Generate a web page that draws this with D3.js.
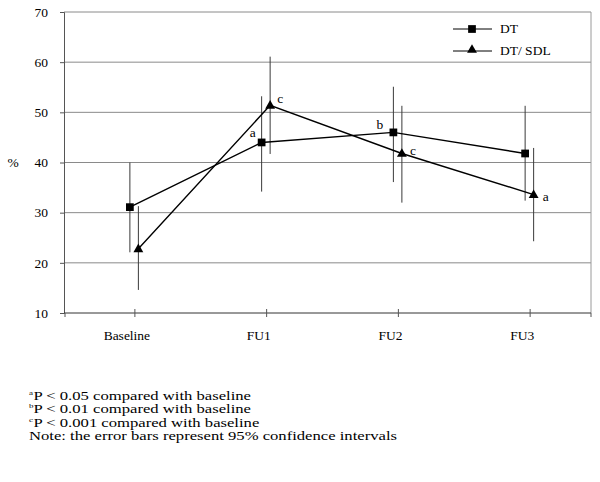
<!DOCTYPE html>
<html><head><meta charset="utf-8">
<script src="https://cdn.jsdelivr.net/npm/d3@7"></script>
<style>body{margin:0;background:#fff}svg{display:block}</style>
</head><body><svg id="c" width="600" height="482"></svg>
<script>
const categories = ["Baseline","FU1","FU2","FU3"];
const yTicks = [10,20,30,40,50,60,70];
const dtMean = [31.1, 44.0, 46.0, 41.8];
const dtLow  = [22.1, 34.2, 36.1, 32.4];
const dtHigh = [40.0, 53.2, 55.1, 51.3];
const dtSig  = ["", "a", "b", ""];
const sdlMean = [22.8, 51.4, 41.8, 33.6];
const sdlLow  = [14.6, 41.7, 32.0, 24.3];
const sdlHigh = [31.3, 61.1, 51.3, 42.9];
const sdlSig  = ["", "c", "c", "a"];
const seriesNames = ["DT","DT/ SDL"];
const footSup = ["a","b","c",""];
const footText = [
  "P < 0.05 compared with baseline",
  "P < 0.01 compared with baseline",
  "P < 0.001 compared with baseline",
  "Note: the error bars represent 95% confidence intervals"
];

const FONT = "Liberation Serif";
const svg = d3.select("#c");
const L=64, R=591, T=12, B=313;
const x = d3.scaleBand().domain(categories).range([L,R]);
const y = d3.scaleLinear().domain([10,70]).range([B,T]);
const cx = c => x(c) + x.bandwidth()/2;
const txt = sel => sel.style("font-family",FONT).attr("fill","#000");

// gridlines
svg.append("g").selectAll("line").data(yTicks.filter(t=>t>10)).join("line")
  .attr("x1",L).attr("x2",R).attr("y1",d=>y(d)).attr("y2",d=>y(d))
  .attr("stroke","#8a8a8a").attr("stroke-width",1);
svg.append("line").attr("x1",R).attr("x2",R).attr("y1",T).attr("y2",B).attr("stroke","#9a9a9a");

// y axis
const ya = svg.append("g").attr("transform",`translate(${L},0)`)
  .call(d3.axisLeft(y).tickValues(yTicks).tickSize(4).tickPadding(12));
ya.select(".domain").attr("stroke","#555");
ya.selectAll(".tick line").attr("stroke","#555");
ya.selectAll("text").style("font-size","13.5px").call(txt);

// x axis
const xa = svg.append("g").attr("transform",`translate(0,${B})`)
  .call(d3.axisBottom(x).tickSize(0).tickPadding(17));
xa.select(".domain").attr("stroke","#333").attr("d",`M${L},0H${R}`);
xa.selectAll("text").style("font-size","13.5px").call(txt).attr("dx","-3");
const xTickPos = categories.map(d=>cx(d)+5);
svg.append("g").selectAll("line").data(xTickPos).join("line")
  .attr("x1",d=>d).attr("x2",d=>d).attr("y1",B-4).attr("y2",B+4).attr("stroke","#555");
svg.append("g").selectAll("line").data([L+1,R]).join("line")
  .attr("x1",d=>d).attr("x2",d=>d).attr("y1",B).attr("y2",B+4).attr("stroke","#555");

// y title
svg.append("text").attr("x",13).attr("y",y(40)+4).attr("text-anchor","middle")
  .style("font-size","13.5px").call(txt).text("%");

const series = [
  {mean:dtMean, low:dtLow, high:dtHigh, sig:dtSig, off:0, shape:"square"},
  {mean:sdlMean, low:sdlLow, high:sdlHigh, sig:sdlSig, off:8.5, shape:"tri"}
];
const sqSym = d3.symbol().type(d3.symbolSquare).size(60);
const triSym = d3.symbol().type(d3.symbolTriangle).size(42);

series.forEach(s=>{
  svg.append("g").selectAll("line").data(categories).join("line")
    .attr("x1",d=>cx(d)+s.off).attr("x2",d=>cx(d)+s.off)
    .attr("y1",(d,i)=>y(s.high[i])).attr("y2",(d,i)=>y(s.low[i]))
    .attr("stroke","#3a3a3a").attr("stroke-width",1);
});
series.forEach(s=>{
  const g = svg.append("g");
  const line = d3.line().x((d,i)=>cx(categories[i])+s.off).y(d=>y(d));
  g.append("path").attr("d",line(s.mean)).attr("fill","none").attr("stroke","#000").attr("stroke-width",1.4);
  g.selectAll("path.m").data(s.mean).join("path").attr("class","m")
    .attr("transform",(d,i)=>`translate(${cx(categories[i])+s.off},${y(d)+(s.shape==="tri"?0.5:0)})`)
    .attr("d", s.shape==="tri"?triSym:sqSym).attr("fill","#000");
});
// significance letters
const sigPos = [
  {s:0,i:1,dx:-12,dy:-5},{s:0,i:2,dx:-17,dy:-3},
  {s:1,i:1,dx:7,dy:-2},{s:1,i:2,dx:8,dy:2},{s:1,i:3,dx:9,dy:6}
];
sigPos.forEach(p=>{
  const s = series[p.s];
  svg.append("text").attr("x",cx(categories[p.i])+s.off+p.dx).attr("y",y(s.mean[p.i])+p.dy)
    .style("font-size","13.5px").call(txt).text(s.sig[p.i]);
});

// legend
const lg = svg.append("g");
[0,1].forEach(k=>{
  const ly = k===0?29:51;
  lg.append("line").attr("x1",453).attr("x2",492).attr("y1",ly).attr("y2",ly).attr("stroke","#000");
  lg.append("path").attr("transform",`translate(472,${ly-(k?1:0)})`).attr("d",k?triSym:sqSym).attr("fill","#000");
  lg.append("text").attr("x",500).attr("y",ly+4).style("font-size","13.5px").call(txt).text(seriesNames[k]);
});

// footnotes (horizontally stretched like the reference)
const fn = svg.append("g").attr("transform","translate(29,0) scale(1.28,1)");
footText.forEach((f,i)=>{
  const by = 400 + i*13.4;
  if(footSup[i]){
    fn.append("text").attr("x",0).attr("y",by-5).style("font-size","7px").call(txt).text(footSup[i]);
    fn.append("text").attr("x",3.5).attr("y",by).style("font-size","13px").call(txt).text(f);
  } else {
    fn.append("text").attr("x",0).attr("y",by).style("font-size","13px").call(txt).text(f);
  }
});
</script></body></html>
